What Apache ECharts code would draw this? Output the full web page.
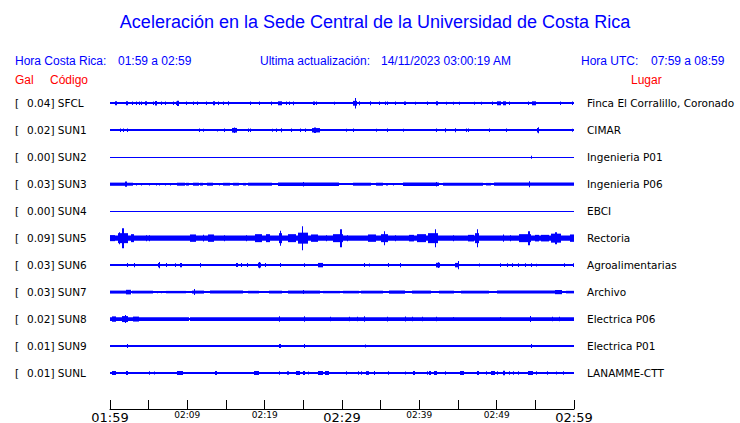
<!DOCTYPE html>
<html>
<head>
<meta charset="utf-8">
<script src="https://cdn.jsdelivr.net/npm/echarts@6/dist/echarts.min.js"></script>
<style>
  html, body { margin: 0; padding: 0; background: #ffffff; }
  #chart { width: 740px; height: 423px; }
</style>
</head>
<body>
<div id="chart"></div>
<script>
// ---------------- DATA ----------------
const codes = ['SFCL', 'SUN1', 'SUN2', 'SUN3', 'SUN4', 'SUN5', 'SUN6', 'SUN7', 'SUN8', 'SUN9', 'SUNL'];
const galMax = ['0.04', '0.02', '0.00', '0.03', '0.00', '0.09', '0.03', '0.03', '0.02', '0.01', '0.01'];
const places = ['Finca El Corralillo, Coronado', 'CIMAR', 'Ingenieria P01', 'Ingenieria P06', 'EBCI',
  'Rectoria', 'Agroalimentarias', 'Archivo', 'Electrica P06', 'Electrica P01', 'LANAMME-CTT'];
// time axis: minutes after 01:59, tick every 5 minutes
const tickLabels = ['01:59', '', '02:09', '', '02:19', '', '02:29', '', '02:39', '', '02:49', '', '02:59'];
const bigTicks = ['01:59', '02:29', '02:59'];

// quiet-trace half amplitude (relative units) per station
const baseHalf = [0.9, 0.9, 0.6, 0.9, 0.6, 0.9, 0.9, 0.9, 0.9, 0.9, 0.9];

// activity: [startMinute, endMinute, halfAmplitude]
const sfcl = [[0.6,0.95,2],[2.07,2.35,2],[2.84,2.94,1.8],[3.36,3.46,1.8],[3.7,3.8,1.8],[3.97,4.07,1.8],[4.57,4.83,2],[5.5,5.6,1.8],[5.78,6.03,2.2],[6.6,6.7,1.8],[7.07,7.17,1.8],[8.1,8.2,1.8],[8.53,8.63,1.8],[8.7,8.97,2.6],[9.83,9.93,1.8],[10.78,10.88,1.8],[11.3,11.4,1.8],[12.4,12.5,1.8],[13.28,13.62,2],[13.97,14.07,1.8],[14.66,14.76,1.8],[15.26,15.36,2],[18.1,18.2,1.8],[19.3,19.4,1.8],[20.8,21.0,1.9],[21.7,22.24,2],[22.76,22.86,1.8],[23.1,23.2,1.8],[23.6,23.7,1.9],[26.2,26.5,1.8],[26.7,26.8,1.8],[29.0,29.1,1.5],[31.4,31.9,2.4],[31.65,31.75,5.3],[32.15,32.25,2],[33.6,33.7,2],[34.8,34.9,1.8],[35.5,35.6,1.8],[35.8,35.9,1.8],[36.9,37.0,1.8],[38.0,38.3,1.8],[39.5,39.6,1.5],[40.95,41.05,1.8],[42.15,42.4,2],[43.45,43.55,1.5],[44.3,44.4,1.5],[45.1,45.2,1.5],[47.1,47.2,1.5],[48.0,48.1,1.5],[49.4,49.5,1.8],[50.1,50.5,2],[50.85,51.2,2],[51.6,51.7,1.8],[54.1,54.2,1.8],[54.55,55.1,2],[58.2,58.3,1.8],[59.8,59.9,1.8]];
const sun1 = [[1.3,1.4,1.8],[1.72,1.82,1.8],[2.16,2.26,1.8],[11.47,11.57,1.8],[12.0,12.1,1.5],[13.9,14.0,1.2],[14.8,14.9,1.8],[15.8,16.4,2.3],[16.0,16.1,2.8],[17.9,18.0,1.8],[18.1,18.2,1.8],[20.9,21.0,1.5],[21.5,21.6,1.8],[22.1,22.2,1.9],[23.4,23.5,1.8],[24.6,24.7,1.8],[25.2,25.3,1.8],[26.1,27.1,2.2],[26.4,26.6,2.8],[30.5,30.6,1.5],[31.4,31.5,1.8],[34.4,34.5,1.5],[35.8,35.9,1.8],[37.9,38.0,1.5],[42.2,42.3,1.8],[43.3,43.5,2],[44.6,44.7,2],[46.0,46.1,1.8],[46.3,46.4,1.8],[49.05,49.15,1.8],[51.2,51.3,1.8],[55.2,55.5,2.2],[55.3,55.4,3],[59.8,59.9,1.5]];
const sun2 = [[54.4,54.5,1.5]];
const sun3 = [[0,2.0,1.6],[2.0,2.24,2.6],[2.24,3.0,1.5],[3.36,3.46,1.2],[4.0,4.1,1.2],[5.0,5.1,1.3],[5.95,6.05,1.2],[6.4,6.5,1.2],[7.15,7.25,1.2],[7.7,7.8,1.2],[8.1,8.2,1],[8.7,9.65,1.5],[9.83,10.26,1.4],[10.78,11.55,1.5],[11.7,12.0,1.4],[12.6,13.3,1.5],[14.1,14.2,1.2],[14.65,15.5,1.4],[15.86,16.7,1.4],[17.15,17.6,1.3],[17.8,21.0,1.5],[21.7,29.65,1.7],[24.9,25.1,2.2],[29.7,30.5,1],[31.4,33.75,1.5],[34.4,35.25,1.5],[35.7,35.9,1.2],[36.6,36.7,1.2],[37.85,42.6,1.7],[42.1,42.3,2.2],[43.0,48.2,1.5],[48.6,49.3,1.3],[49.7,60,1.6],[54.2,54.35,3]];
const sun4 = [];
const sun5 = [[0,60,2.6],[0,0.6,3],[1.0,2.3,5],[1.55,1.75,10],[1.2,1.35,6],[2.76,3.15,4],[4.6,4.7,3],[5.0,5.1,3],[10.3,11.1,3.7],[12.0,12.1,3.3],[12.7,13.5,3.7],[14.7,14.8,3],[17.6,17.7,3],[18.8,19.7,4],[20.2,20.7,4],[21.8,22.3,5],[22.0,22.1,7.5],[23.0,24.0,4],[24.3,25.6,5.5],[24.8,25.0,12],[26.0,26.85,3.7],[27.9,28.0,3],[28.9,30.1,4],[29.8,29.95,9],[30.7,30.8,3],[33.3,34.4,3.7],[35.0,35.9,4],[35.4,35.5,7],[36.8,36.9,3],[38.7,39.35,3.3],[39.65,40.9,4],[41.1,42.4,5],[42.0,42.15,9],[44.4,44.5,3],[46.25,47.1,3.3],[47.2,47.7,5],[47.4,47.5,9],[50.8,50.9,3.7],[51.7,51.8,3],[52.9,54.4,4],[54.1,54.25,7],[54.9,55.5,3.3],[55.7,56.8,3.3],[57.0,58.3,4.5],[57.6,57.75,6],[59.5,60,3.7]];
const sun6 = [[2.16,2.26,2],[3.05,3.2,2.2],[6.2,6.5,2.2],[6.3,6.4,3.2],[7.24,7.34,2],[8.36,8.46,1.9],[9.05,9.25,2.2],[11.6,11.75,2.2],[16.3,16.55,2],[16.9,17.0,2],[17.76,17.86,2],[19.2,19.5,2.4],[19.3,19.4,3.2],[20.0,20.1,2],[22.0,22.1,2],[25.1,25.2,1.8],[26.9,27.5,2.2],[32.9,33.0,2],[33.5,33.6,1.5],[35.95,36.05,2],[37.45,37.65,2.2],[42.2,42.7,2.3],[42.4,42.5,2.8],[44.65,45.1,2.2],[44.95,45.05,4.2],[47.7,47.8,1.5],[50.4,50.5,1.9],[51.3,51.4,1.9],[52.0,52.1,1.9],[52.8,52.95,1.9],[53.7,53.8,1.9],[54.5,54.6,1.9],[55.1,55.2,1.3],[58.7,58.8,1.9],[59.9,60,1.9]];
const sun7 = [[0,2.1,1.5],[2.1,2.7,2.3],[2.9,5.5,1.4],[6.1,6.2,1.2],[6.6,6.7,1.2],[7.2,9.8,1.2],[10.6,12.2,1.5],[10.85,10.95,3],[12.9,17.2,1.5],[17.8,19.3,1.3],[20.5,22.2,1.4],[23.0,27.1,1.5],[24.9,25.1,2],[27.5,29.7,1.2],[30.1,32.2,1.3],[32.5,35.3,1.4],[36.1,38.1,1.6],[39.1,41.5,1.5],[42.6,44.5,1.4],[45.4,49.05,1.4],[50.1,57.5,1.5],[57.5,58.5,2.1],[59,60,1.3]];
const sun8 = [[0,10.2,1.9],[10.4,60,1.9],[0.2,0.8,2.7],[1.5,2.3,3],[1.9,2.0,4],[3.0,3.7,2.5],[21.9,22.0,2.8],[25.1,25.2,2.8],[28.4,28.5,2.3],[30.95,31.05,2.2],[31.9,32.0,2.3],[32.9,33.0,2.8],[35.8,35.9,2.4],[38.2,38.3,2.5],[39.1,39.2,2.3],[40.3,40.4,2.3],[42.2,42.3,2.3],[44.4,44.5,2],[50.4,50.5,2],[54.35,54.5,3],[57.2,57.3,2.3],[58.1,58.2,2.3]];
const sun9 = [[2.16,2.26,2],[21.9,22.1,2],[25.1,25.2,2],[33.0,33.1,1.5],[54.5,54.6,2]];
const sunl = [[0.26,0.78,2],[2.07,2.33,2],[5.0,5.1,1.8],[5.7,5.8,1.5],[8.6,9.4,2],[13.6,13.9,2],[18.6,19.3,2],[21.9,22.0,1.8],[22.85,23.1,1.8],[24.0,24.6,2],[24.9,25.25,2],[25.6,25.7,1.5],[26.9,27.5,2],[27.75,28.36,2],[30.5,30.6,1.8],[32.1,32.2,1.8],[32.4,32.5,1.8],[33.1,33.45,1.9],[34.2,34.3,1.9],[35.95,36.05,1.8],[38.1,38.2,1.5],[39.2,39.5,1.9],[40.95,41.05,1.8],[41.2,41.55,2],[41.9,42.3,2],[43.3,43.4,1.8],[45.25,45.8,2],[47.5,47.75,2],[48.6,48.7,1.8],[49.3,49.8,2],[50.0,50.1,1.8],[50.8,51.1,2.3],[51.6,51.7,1.8],[52.1,52.2,1.8],[52.8,52.9,1.8],[54.05,54.65,2],[55.1,55.2,1.8],[56.55,56.65,1.8],[57.7,57.8,1.5],[58.6,58.7,1.8]];

const eventsByStation = [sfcl, sun1, sun2, sun3, sun4, sun5, sun6, sun7, sun8, sun9, sunl];
const ROW_UNITS = 27; // relative amplitude units per trace row

// ---------------- BUILD ----------------
const traceData = [];
eventsByStation.forEach(function (ev, i) {
  traceData.push([i, 0, 60, baseHalf[i]]);
  ev.forEach(function (e) { traceData.push([i, e[0], e[1], e[2]]); });
});

function renderItem(params, api) {
  const row = api.value(0);
  const p0 = api.coord([api.value(1), row]);
  const p1 = api.coord([api.value(2), row]);
  const rowPx = Math.abs(api.coord([0, 1])[1] - api.coord([0, 0])[1]);
  const h = api.value(3) * rowPx / ROW_UNITS;
  const x0 = Math.round(p0[0]);
  const x1 = Math.max(x0 + 1, Math.round(p1[0]));
  let y0 = p0[1] - h, y1 = p0[1] + h;
  if (h < 1.1) { // thin quiet trace: snap to pixel rows for a crisp line
    y0 = Math.round(y0);
    y1 = Math.max(y0 + 1, Math.round(y1));
  }
  return {
    type: 'rect',
    shape: { x: x0, y: y0, width: x1 - x0, height: y1 - y0 },
    style: { fill: '#0000ff' }
  };
}

const blue = '#0000ff', red = '#ff0000';
const hdrFont = 'Liberation Sans, Arial, sans-serif';
const lblFont = 'DejaVu Sans';
function txt(text, x, y, color, size, align) {
  return { type: 'text', x: x, y: y, silent: true,
    style: { text: text, fill: color, fontSize: size, fontFamily: hdrFont, align: align || 'left', verticalAlign: 'middle' } };
}

const chart = echarts.init(document.getElementById('chart'), null, { renderer: 'svg' });
chart.setOption({
  animation: false,
  backgroundColor: '#ffffff',
  graphic: [
    txt('Aceleración en la Sede Central de la Universidad de Costa Rica', 375, 22, blue, 18, 'center'),
    txt('Hora Costa Rica:', 15, 61, blue, 12),
    txt('01:59 a 02:59', 118, 61, blue, 12),
    txt('Ultima actualización:', 260, 61, blue, 12),
    txt('14/11/2023 03:00:19 AM', 381, 61, blue, 12),
    txt('Hora UTC:', 581, 61, blue, 12),
    txt('07:59 a 08:59', 651, 61, blue, 12),
    txt('Gal', 15, 80, red, 12),
    txt('Código', 50, 80, red, 12),
    txt('Lugar', 631, 80, red, 12)
  ],
  grid: { left: 110, width: 464, top: 89.8, height: 296.7, containLabel: false, outerBoundsMode: 'none' },
  xAxis: {
    type: 'value', min: 0, max: 60, interval: 5, offset: 22.5,
    axisLine: { show: true, lineStyle: { color: '#000000', width: 1 } },
    axisTick: { show: true, inside: true, length: 9, lineStyle: { color: '#000000', width: 1 } },
    splitLine: { show: false },
    axisLabel: {
      margin: 1, showMinLabel: true, showMaxLabel: true,
      formatter: function (v) {
        const t = tickLabels[Math.round(v / 5)] || '';
        if (!t) return '';
        return bigTicks.indexOf(t) >= 0 ? '{big|' + t + '}' : '{small|' + t + '}';
      },
      rich: {
        big: { fontSize: 13, lineHeight: 14, color: '#000000', fontFamily: lblFont },
        small: { fontSize: 9, lineHeight: 10, color: '#000000', fontFamily: lblFont }
      }
    }
  },
  yAxis: [
    {
      type: 'category', inverse: true, data: codes, position: 'left',
      axisLine: { show: false }, axisTick: { show: false }, splitLine: { show: false },
      axisLabel: {
        margin: 95, align: 'left',
        formatter: function (v, i) { return '{b|[}{v|' + galMax[i] + '] ' + v + '}'; },
        rich: {
          b: { width: 12, fontSize: 10.5, color: '#000000', fontFamily: lblFont },
          v: { fontSize: 10.5, color: '#000000', fontFamily: lblFont }
        }
      }
    },
    {
      type: 'category', inverse: true, data: places, position: 'right',
      axisLine: { show: false }, axisTick: { show: false }, splitLine: { show: false },
      axisLabel: { margin: 13, align: 'left', fontSize: 10.5, color: '#000000', fontFamily: lblFont }
    }
  ],
  series: [{
    type: 'custom', renderItem: renderItem, data: traceData,
    xAxisIndex: 0, yAxisIndex: 0, silent: true,
    encode: { x: [1, 2], y: 0 }
  }]
});
</script>
</body>
</html>
